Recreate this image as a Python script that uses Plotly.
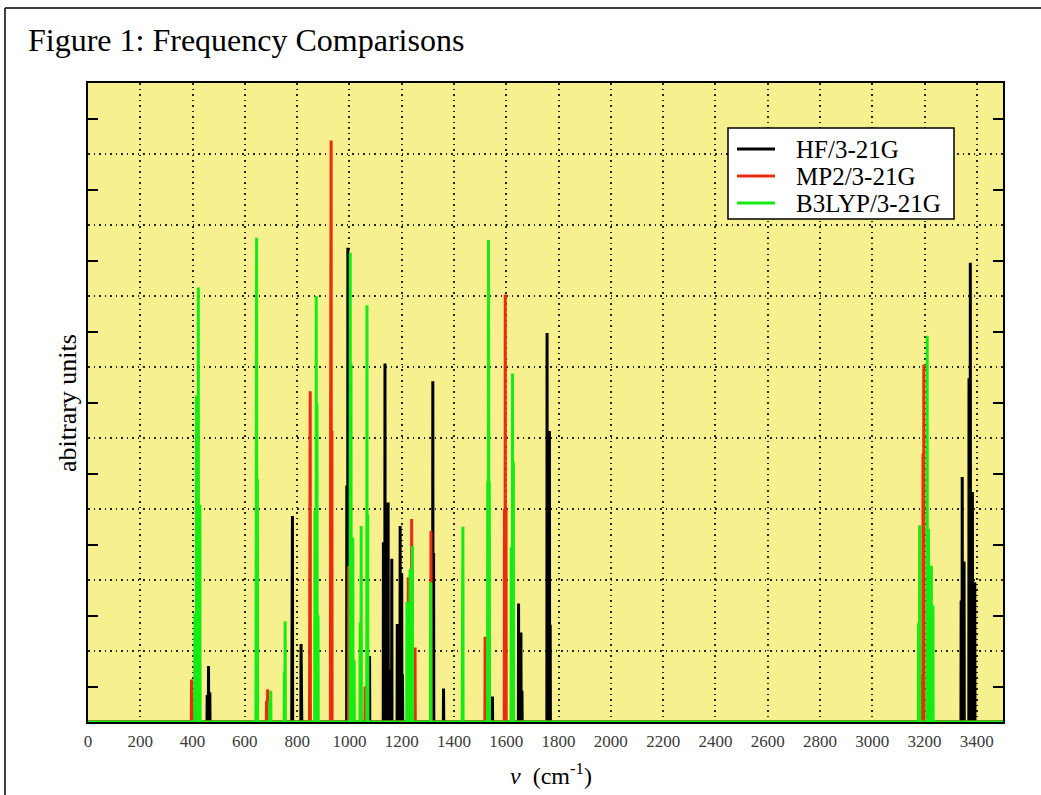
import plotly.graph_objects as go

# ---------------- data ----------------
# peak positions (cm^-1) and intensities (arbitrary units)
hf_freq = [456, 461, 466, 780, 782, 815, 817, 990, 994, 1077,
           1130, 1136, 1148, 1159, 1162, 1183, 1194, 1200, 1203,
           1319, 1322, 1360, 1547, 1647, 1656, 1660, 1756, 1765, 1768,
           3340, 3344, 3351, 3370, 3375, 3383, 3392]
hf_int = [0.38, 0.79, 0.42, 1.45, 2.90, 1.10, 0.57, 3.33, 6.68, 0.93,
          2.53, 5.05, 3.09, 0.74, 2.30, 1.38, 2.76, 2.09, 0.67,
          4.80, 2.38, 0.47, 0.36, 1.67, 1.26, 0.44, 5.48, 4.10, 1.37,
          1.71, 3.45, 2.26, 4.84, 6.47, 3.24, 1.97]

mp2_freq = [396, 400, 683, 687, 848, 850, 928, 930, 933, 997, 1060,
            1225, 1238, 1251, 1312, 1519, 1593, 1596, 1599,
            3187, 3194, 3197]
mp2_int = [0.60, 0.20, 0.30, 0.46, 2.32, 4.66, 4.10, 8.19, 4.10, 2.20, 0.50,
           2.04, 2.86, 1.05, 2.69, 1.20, 3.00, 6.02, 3.00,
           0.66, 3.78, 5.03]

b3lyp_freq = [409, 415, 422, 428, 643, 645, 648, 695, 699, 751, 754,
              868, 873, 876, 880, 1003, 1006, 1013, 1018, 1041, 1045,
              1067, 1070, 1220, 1232, 1241, 1311, 1432, 1434,
              1529, 1532, 1535, 1619, 1624, 1627,
              3177, 3181, 3210, 3215, 3226, 3232]
b3lyp_int = [1.53, 4.60, 6.12, 3.06, 3.42, 6.82, 3.42, 0.30, 0.44, 0.71, 1.42,
             2.98, 6.00, 4.49, 1.50, 6.61, 5.05, 2.60, 0.87, 1.40, 2.76,
             5.87, 2.92, 1.69, 2.15, 2.48, 1.97, 1.38, 2.75,
             3.39, 6.79, 3.39, 2.46, 4.91, 3.66,
             1.39, 2.77, 5.44, 2.72, 2.20, 1.64]

series_names = ["HF/3-21G", "MP2/3-21G", "B3LYP/3-21G"]
x_tick_vals = [0, 200, 400, 600, 800, 1000, 1200, 1400, 1600, 1800,
               2000, 2200, 2400, 2600, 2800, 3000, 3200, 3400]
x_tick_text = [str(v) for v in x_tick_vals]
y_tick_vals = [0.5, 1.5, 2.5, 3.5, 4.5, 5.5, 6.5, 7.5, 8.5]
y_grid_vals = [1, 2, 3, 4, 5, 6, 7, 8]

# ---------------- styling ----------------
colors = ["#000000", "#ec2c10", "#14ec14"]
X_MAX, Y_MAX = 3500, 9
HALF = 0.8  # half base width of a stick (cm^-1)

W, H = 1041, 795
L, R, T, B = 88, 38, 83, 73
PW, PH = W - L - R, H - T - B


def px(x):
    return (x - L) / PW


def py(y):
    return (H - B - y) / PH


def stick_path(freqs, ints):
    xs, ys = [0], [0]
    for f, h in sorted(zip(freqs, ints)):
        xs += [f - HALF, f, f + HALF]
        ys += [0, h, 0]
    xs.append(X_MAX)
    ys.append(0)
    return xs, ys


fig = go.Figure()
for name, fr, it, col in zip(series_names,
                             [hf_freq, mp2_freq, b3lyp_freq],
                             [hf_int, mp2_int, b3lyp_int], colors):
    xs, ys = stick_path(fr, it)
    fig.add_trace(go.Scatter(x=xs, y=ys, mode="lines", name=name,
                             line=dict(color=col, width=3),
                             showlegend=False, hoverinfo="skip"))

serif = "Liberation Serif, Times New Roman, serif"
dotted = "1.5px,4px"

fig.update_layout(
    width=W, height=H, autosize=False,
    margin=dict(l=L, r=R, t=T, b=B, pad=0, autoexpand=False),
    paper_bgcolor="white",
    plot_bgcolor="#f7f08e",
    font=dict(family=serif, color="black"),
    xaxis=dict(range=[0, X_MAX], tickmode="array", tickvals=x_tick_vals,
               ticktext=x_tick_text, ticks="", showgrid=True,
               gridcolor="#222222", gridwidth=1.6, griddash=dotted,
               zeroline=False, showline=True, linecolor="black",
               linewidth=1.5, mirror=True, layer="below traces",
               tickfont=dict(family=serif, size=17, color="#3a3a3a"),
               ticklabelstandoff=3),
    yaxis=dict(range=[0, Y_MAX], tickmode="array", tickvals=y_tick_vals,
               ticks="inside", ticklen=10, tickwidth=1.5, tickcolor="black",
               showticklabels=False, showgrid=False, zeroline=False,
               showline=True, linecolor="black", linewidth=1.5,
               mirror="ticks",
               minor=dict(tickmode="array", tickvals=y_grid_vals,
                          showgrid=True, gridcolor="#222222", gridwidth=1.6,
                          griddash=dotted, ticks="")),
)

shapes = []
annotations = []

# outer frame (top and left edges of the figure box)
shapes.append(dict(type="line", xref="paper", yref="paper",
                   x0=px(5), x1=px(W + 5), y0=py(8), y1=py(8),
                   line=dict(color="black", width=1.5)))
shapes.append(dict(type="line", xref="paper", yref="paper",
                   x0=px(5), x1=px(5), y0=py(8), y1=py(H + 5),
                   line=dict(color="black", width=1.5)))

# title
annotations.append(dict(text="Figure 1: Frequency Comparisons",
                        xref="paper", yref="paper", x=px(26), y=py(40),
                        xanchor="left", yanchor="middle", showarrow=False,
                        font=dict(family=serif, size=32, color="black")))
# axis titles
annotations.append(dict(text="abitrary units", textangle=-90,
                        xref="paper", yref="paper", x=px(67), y=py(403),
                        xanchor="center", yanchor="middle", showarrow=False,
                        font=dict(family=serif, size=26, color="black")))
annotations.append(dict(text="<i>ν</i>&nbsp; (cm<sup>-1</sup>)",
                        xref="paper", yref="paper", x=px(551), y=py(774),
                        xanchor="center", yanchor="middle", showarrow=False,
                        font=dict(family=serif, size=24, color="black")))

# legend box
shapes.append(dict(type="rect", xref="paper", yref="paper",
                   x0=px(728), x1=px(954), y0=py(128), y1=py(219),
                   fillcolor="white", line=dict(color="black", width=1.5)))
for i, (name, col) in enumerate(zip(series_names, colors)):
    ry = 149 + 27 * i
    shapes.append(dict(type="line", xref="paper", yref="paper",
                       x0=px(737), x1=px(775), y0=py(ry), y1=py(ry),
                       line=dict(color=col, width=3)))
    annotations.append(dict(text=name, xref="paper", yref="paper",
                            x=px(794), y=py(ry), xanchor="left",
                            yanchor="middle", showarrow=False,
                            font=dict(family=serif, size=25, color="black")))

fig.update_layout(shapes=shapes, annotations=annotations)

fig.write_html("out.html",
               config={"displayModeBar": False},
               post_script="document.body.style.margin='0';document.body.style.overflow='hidden';")
